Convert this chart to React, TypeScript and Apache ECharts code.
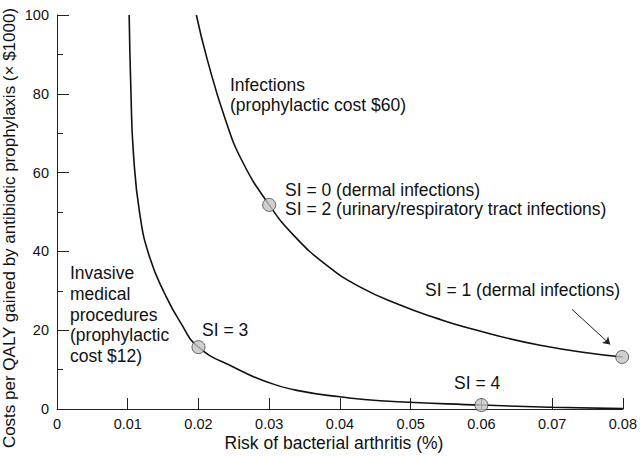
import React, { useEffect, useRef } from "react";
import * as echarts from "echarts";

// Axis ticks
const xTickValues = [0, 0.01, 0.02, 0.03, 0.04, 0.05, 0.06, 0.07, 0.08];
const yTickValues = [0, 20, 40, 60, 80, 100];

// Invasive medical procedures curve (prophylactic cost $12)
const invasiveRisk = [0.0102, 0.01046, 0.0108, 0.0117, 0.0131, 0.0153, 0.0174, 0.02, 0.025, 0.0296, 0.0343, 0.04, 0.0457, 0.06, 0.07, 0.08];
const invasiveCost = [100, 80, 65, 49.5, 38.5, 29, 22.1, 15.7, 10.6, 6.9, 4.6, 3.1, 2.1, 1.0, 0.45, 0.1];

// Infections curve (prophylactic cost $60)
const infectionRisk = [0.0197, 0.0212, 0.0238, 0.0263, 0.03, 0.0334, 0.0381, 0.0428, 0.0485, 0.0537, 0.0579, 0.0683, 0.08];
const infectionCost = [100, 89, 73.5, 62.5, 51.8, 44.2, 36.5, 31, 26.4, 23, 20.7, 16.2, 13.2];

// Marked SI points
const siNames = ["SI = 3", "SI = 0 / SI = 2", "SI = 1", "SI = 4"];
const siRisk = [0.02, 0.03, 0.0799, 0.06];
const siCost = [15.7, 51.8, 13.2, 1.0];

// Annotation arrow (data coordinates)
const arrowFrom = [0.0728, 25.3];
const arrowTo = [0.0782, 16.4];

const FONT = "Liberation Sans";
const TXT = "#111";

function txt(text: string, x: number, y: number, size = 17.5) {
  return {
    type: "text",
    x,
    y,
    silent: true,
    style: { text, fontSize: size, fontFamily: FONT, fill: TXT, align: "left", verticalAlign: "middle" },
  };
}

export default function App() {
  const ref = useRef<HTMLDivElement>(null);
  useEffect(() => {
    if (!ref.current) return;
    const chart = echarts.init(ref.current, undefined, { renderer: "svg" });
    const xMin = xTickValues[0];
    const xMax = xTickValues[xTickValues.length - 1];
    const yMin = yTickValues[0];
    const yMax = yTickValues[yTickValues.length - 1];
    chart.setOption({
      animation: false,
      backgroundColor: "#fff",
      grid: { left: 57, right: 17, top: 15, bottom: 47, containLabel: false },
      xAxis: {
        type: "value",
        min: xMin,
        max: xMax,
        interval: xTickValues[1] - xTickValues[0],
        axisLine: { show: true, onZero: false, lineStyle: { color: "#222", width: 1 } },
        axisTick: { show: true, inside: true, length: 11, lineStyle: { color: "#222" } },
        axisLabel: {
          color: TXT,
          fontSize: 14.5,
          fontFamily: FONT,
          margin: 7,
          formatter: (v: number) => (v === 0 ? "0" : v.toFixed(2)),
        },
        splitLine: { show: false },
      },
      yAxis: {
        type: "value",
        min: yMin,
        max: yMax,
        interval: yTickValues[1] - yTickValues[0],
        axisLine: { show: true, lineStyle: { color: "#222", width: 1 } },
        axisTick: { show: true, inside: true, length: 12, lineStyle: { color: "#222" } },
        minorTick: { show: true, splitNumber: 2, length: 6, lineStyle: { color: "#222" } },
        axisLabel: { color: TXT, fontSize: 14.5, fontFamily: FONT, margin: 8 },
        splitLine: { show: false },
      },
      series: [
        {
          name: "Invasive medical procedures",
          type: "line",
          data: invasiveRisk.map((x, i) => [x, invasiveCost[i]]),
          smooth: 0.5,
          showSymbol: false,
          lineStyle: { color: "#111", width: 1.6 },
          z: 2,
        },
        {
          name: "Infections",
          type: "line",
          data: infectionRisk.map((x, i) => [x, infectionCost[i]]),
          smooth: 0.5,
          showSymbol: false,
          lineStyle: { color: "#111", width: 1.6 },
          z: 2,
        },
        {
          name: "SI",
          type: "scatter",
          data: siRisk.map((x, i) => ({ name: siNames[i], value: [x, siCost[i]] })),
          symbolSize: 13,
          clip: false,
          itemStyle: { color: "#c4c4c4", borderColor: "#444", borderWidth: 1 },
          z: 5,
        },
        {
          name: "arrow",
          type: "lines",
          coordinateSystem: "cartesian2d",
          data: [{ coords: [arrowFrom, arrowTo] }],
          symbol: ["none", "arrow"],
          symbolSize: 7,
          lineStyle: { color: "#222", width: 1, opacity: 1 },
          z: 4,
        },
      ],
      graphic: [
        txt("Infections", 230, 85),
        txt("(prophylactic cost $60)", 230, 105),
        txt("SI = 0 (dermal infections)", 285, 190),
        txt("SI = 2 (urinary/respiratory tract infections)", 285, 209),
        txt("SI = 1 (dermal infections)", 425, 290),
        txt("SI = 4", 454, 383),
        txt("SI = 3", 202, 330),
        txt("Invasive", 70, 273),
        txt("medical", 70, 294),
        txt("procedures", 70, 315),
        txt("(prophylactic", 70, 335),
        txt("cost $12)", 70, 356),
        {
          type: "text",
          x: 334,
          y: 443,
          silent: true,
          style: { text: "Risk of bacterial arthritis (%)", fontSize: 17.5, fontFamily: FONT, fill: TXT, align: "center", verticalAlign: "middle" },
        },
        {
          type: "text",
          x: 9,
          y: 228,
          rotation: Math.PI / 2,
          silent: true,
          style: { text: "Costs per QALY gained by antibiotic prophylaxis (× $1000)", fontSize: 17, fontFamily: FONT, fill: TXT, align: "center", verticalAlign: "middle" },
        },
      ],
    });
    return () => chart.dispose();
  }, []);
  return <div ref={ref} style={{ position: "fixed", left: 0, top: 0, width: 640, height: 456 }} />;
}
